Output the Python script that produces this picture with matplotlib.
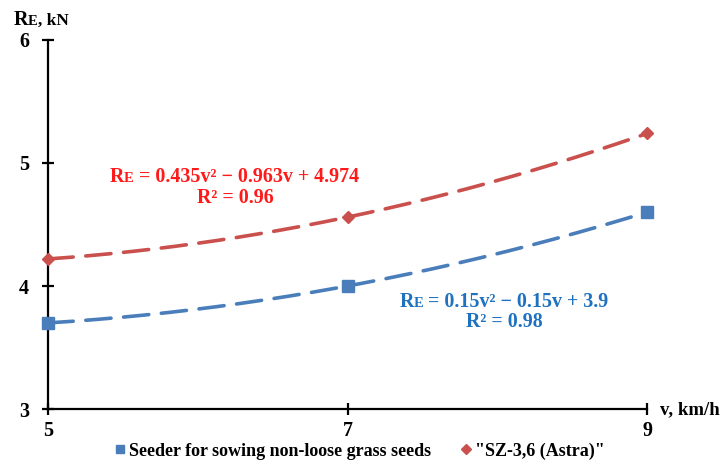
import matplotlib
matplotlib.use("Agg")
import matplotlib.pyplot as plt
import numpy as np

# data
speed = [5, 7, 9]
seeder = [3.70, 4.00, 4.60]
astra = [4.22, 4.56, 5.24]
x_ticks = [5, 7, 9]
y_ticks = [3, 4, 5, 6]
seeder_name = "Seeder for sowing non-loose grass seeds"
astra_name = '"SZ-3,6 (Astra)"'

BLUE = "#4a7ebb"
RED = "#c9504d"
BLUE_TXT = "#1f72c0"
RED_TXT = "#ff1a1a"

plt.rcParams["font.family"] = ["Liberation Serif", "DejaVu Serif"]
plt.rcParams["font.weight"] = "bold"

fig = plt.figure(figsize=(7.27, 4.65), dpi=100)
ax = fig.add_axes([0.066, 0.1204, 0.824, 0.7936])

# quadratic trend lines fitted to the points (Excel style)
vv = np.linspace(5, 9, 200)
for ys, col in [(seeder, BLUE), (astra, RED)]:
    coef = np.polyfit(speed, ys, 2)
    ax.plot(vv, np.polyval(coef, vv), color=col, lw=2.6, dashes=(7, 3.5),
            solid_capstyle="round", dash_capstyle="round", zorder=2)

ax.plot(speed, seeder, ls="none", marker="s", ms=8, color=BLUE, zorder=3,
        clip_on=False, label=seeder_name)
ax.plot(speed, astra, ls="none", marker="D", ms=6, color=RED, zorder=3,
        clip_on=False, label=astra_name)

ax.set_xlim(5, 9)
ax.set_ylim(3, 6)
ax.set_xticks(x_ticks)
ax.set_yticks(y_ticks)
for s in ["top", "right"]:
    ax.spines[s].set_visible(False)
for s in ["left", "bottom"]:
    ax.spines[s].set_linewidth(1.6)
ax.tick_params(direction="inout", length=9, width=1.6, labelsize=14.5, pad=9)
ax.tick_params(axis="x", pad=4)
for lab in ax.get_xticklabels() + ax.get_yticklabels():
    lab.set_fontweight("bold")


def rich(x, y, parts, color):
    # draw text pieces one after another, centred on x (figure pixels)
    fig.canvas.draw()
    r = fig.canvas.get_renderer()
    objs = []
    for txt, fs in parts:
        t = fig.text(0, 0, txt, fontsize=fs, fontweight="bold", color=color,
                     ha="left", va="baseline", transform=None)
        objs.append(t)
    widths = [t.get_window_extent(r).width for t in objs]
    cur = x - sum(widths) / 2
    for t, w in zip(objs, widths):
        t.set_position((cur, y))
        cur += w


H = 465
rich(234, H - 182, [("R", 14.4), ("E", 10.5), (" = 0.435v² − 0.963v + 4.974", 14.4)], RED_TXT)
rich(235, H - 203, [("R² = 0.96", 14.4)], RED_TXT)
rich(504, H - 307, [("R", 14.4), ("E", 10.5), (" = 0.15v² − 0.15v + 3.9", 14.4)], BLUE_TXT)
rich(504, H - 327, [("R² = 0.98", 14.4)], BLUE_TXT)

rich(41, H - 25, [("R", 14.5), ("E", 10.5), (", kN", 12.5)], "black")
fig.text(660 / 727, 1 - 414 / H, "v, km/h", fontsize=13.5, fontweight="bold",
         ha="left", va="baseline")

fig.legend(loc="center", bbox_to_anchor=(0.495, 0.030), ncol=2, frameon=False,
           fontsize=13, handlelength=0.6, handletextpad=0.2, columnspacing=1.6,
           markerscale=0.8, borderpad=0)

fig.savefig("out.png", dpi=100)
